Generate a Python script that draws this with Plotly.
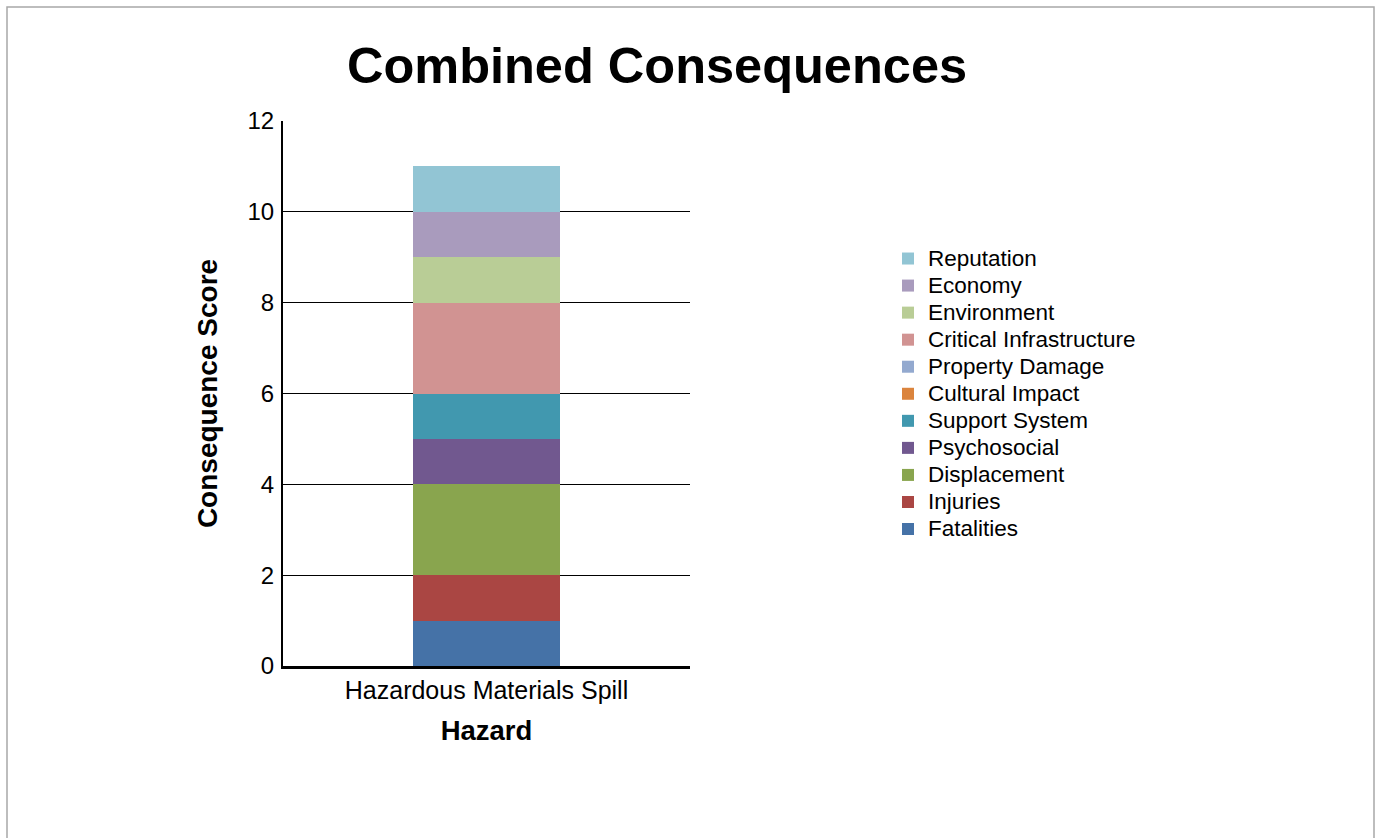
import plotly.graph_objects as go

hazards = ["Hazardous Materials Spill"]
categories = ["Fatalities", "Injuries", "Displacement", "Psychosocial", "Support System",
              "Cultural Impact", "Property Damage", "Critical Infrastructure",
              "Environment", "Economy", "Reputation"]
values = [1, 1, 2, 1, 1, 0, 0, 2, 1, 1, 1]
colors = ["#4572A7", "#AA4643", "#89A54E", "#71588F", "#4198AF",
          "#DB843D", "#93A9CF", "#D19392", "#B9CD96", "#A99BBD", "#92C5D4"]

FONT = "Liberation Sans, Arial, sans-serif"

fig = go.Figure()
for name, v, c in zip(categories, values, colors):
    fig.add_trace(go.Bar(x=hazards, y=[v], name=f'<span style="font-size:22.5px">{name}</span>',
                         marker=dict(color=c, line=dict(width=0)), width=0.36))

W, H = 1376, 838
L, R, T, B = 283, 686, 121, 172
pw = W - L - R
ph = H - T - B

def px_x(p):
    return (p - L) / pw

def px_y(p):
    return (H - B - p) / ph

fig.update_layout(
    width=W, height=H,
    margin=dict(l=L, r=R, t=T, b=B),
    barmode="stack",
    paper_bgcolor="white", plot_bgcolor="white",
    font=dict(family=FONT, color="black", size=24),
    title=dict(text="<b>Combined Consequences</b>", font=dict(size=50.5, family=FONT),
               x=657 / W, xanchor="center", xref="container",
               y=1 - 65 / H, yanchor="middle", yref="container"),
    xaxis=dict(range=[-0.5, 0.5], showline=True, linecolor="black", linewidth=3,
               ticks="", tickfont=dict(size=25),
               title=dict(text="<b>Hazard</b>", font=dict(size=27.5), standoff=18)),
    yaxis=dict(range=[0, 12], dtick=2, showgrid=True, gridcolor="black", gridwidth=1,
               showline=True, linecolor="black", linewidth=2, zeroline=False,
               ticks="", tickfont=dict(size=24), ticklabelstandoff=2,
               title=dict(text="<b>Consequence Score</b>", font=dict(size=28), standoff=22)),
    legend=dict(x=px_x(888), xanchor="left", y=px_y(240), yanchor="top",
                traceorder="reversed", font=dict(size=18.5), itemsizing="constant",
                bgcolor="rgba(0,0,0,0)", tracegroupgap=0),
    shapes=[dict(type="rect", xref="paper", yref="paper",
                 x0=px_x(7), x1=px_x(1374), y0=px_y(850), y1=px_y(7),
                 line=dict(color="#A8A8A8", width=1.5), fillcolor="rgba(0,0,0,0)", layer="below")],
)

fig.write_html("out.html", post_script="document.body.style.margin='0';",
               config={"displayModeBar": False})
